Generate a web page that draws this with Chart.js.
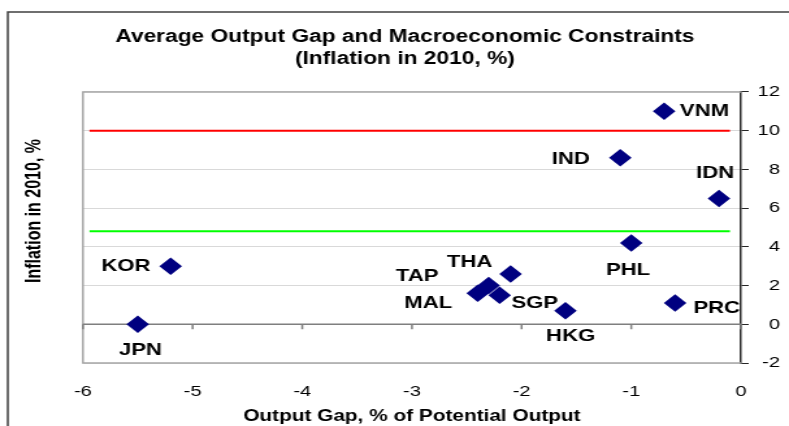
<!DOCTYPE html>
<html>
<head>
<meta charset="utf-8">
<script src="https://cdn.jsdelivr.net/npm/chart.js@4.4.1/dist/chart.umd.min.js"></script>
<style>
  html, body { margin: 0; padding: 0; background: #fff; overflow: hidden; }
  #chart { display: block; }
</style>
</head>
<body>
<canvas id="chart" width="607" height="426" style="width: 789px; height: 426px;"></canvas>
<script>
// values
const countries = ['VNM', 'IND', 'IDN', 'PHL', 'PRC', 'HKG', 'THA', 'TAP', 'MAL', 'SGP', 'KOR', 'JPN']
const outputGap = [-0.7, -1.1, -0.2, -1.0, -0.6, -1.6, -2.1, -2.3, -2.4, -2.2, -5.2, -5.5]
const inflation = [11.0, 8.6, 6.5, 4.2, 1.1, 0.7, 2.6, 2.0, 1.6, 1.5, 3.0, 0.0]
const upperLimit = 10
const lowerLimit = 4.8
const limitSpan = [-5.94, -0.1]

// label placement around each marker (canvas px)
const labelOffsets = {
  VNM: [31, 0], IND: [-38, 1.5], IDN: [-3, -25.5], PHL: [-2.5, 27.5],
  PRC: [32, 5.5], HKG: [4, 26], THA: [-31.5, -11.5], TAP: [-55, -9.5],
  MAL: [-38, 10], SGP: [27, 8.5], KOR: [-34.5, 0], JPN: [2, 26.5]
}

const FONT = '"Liberation Sans", Arial, sans-serif'

const frame = {
  id: 'frame',
  beforeDatasetsDraw (chart) {
    const { ctx, chartArea: a, scales: { x, y } } = chart
    ctx.save()
    ctx.strokeStyle = '#a6a6a6'
    ctx.lineWidth = 1.5
    ctx.beginPath()
    ctx.moveTo(a.right, a.top)
    ctx.lineTo(a.left, a.top)
    ctx.lineTo(a.left, a.bottom)
    ctx.lineTo(a.right, a.bottom)
    ctx.stroke()
    // horizontal axis crossing at zero
    const y0 = y.getPixelForValue(0)
    ctx.strokeStyle = '#7f7f7f'
    ctx.beginPath()
    ctx.moveTo(a.left, y0)
    ctx.lineTo(a.right, y0)
    for (let v = -6; v <= 0; v++) {
      const px = x.getPixelForValue(v)
      ctx.moveTo(px, y0)
      ctx.lineTo(px, y0 + 5)
    }
    ctx.stroke()
    ctx.restore()
  },
  afterDatasetsDraw (chart) {
    const { ctx, scales: { x, y } } = chart
    ctx.save()
    ctx.font = 'bold 17px ' + FONT
    ctx.fillStyle = '#000'
    ctx.textAlign = 'center'
    ctx.textBaseline = 'middle'
    countries.forEach((c, i) => {
      const [dx, dy] = labelOffsets[c]
      ctx.fillText(c, x.getPixelForValue(outputGap[i]) + dx, y.getPixelForValue(inflation[i]) + dy)
    })
    ctx.restore()
  },
  afterDraw (chart) {
    const { ctx } = chart
    ctx.save()
    // outer chart frame
    ctx.strokeStyle = '#404040'
    ctx.lineWidth = 1.5
    ctx.beginPath()
    ctx.moveTo(6, chart.height)
    ctx.lineTo(6, 12)
    ctx.lineTo(chart.width, 12)
    ctx.stroke()
    // vertical axis title
    ctx.translate(26.5, 211)
    ctx.rotate(-Math.PI / 2)
    ctx.font = 'bold 16px ' + FONT
    ctx.fillStyle = '#000'
    ctx.textAlign = 'center'
    ctx.textBaseline = 'middle'
    ctx.fillText('Inflation in 2010, %', 0, 0)
    ctx.restore()
  }
}

const points = outputGap.map((v, i) => ({ x: v, y: inflation[i] }))

const canvas = document.getElementById('chart')
const chart = new Chart(canvas, {
  type: 'scatter',
  data: {
    datasets: [
      {
        data: points,
        pointStyle: 'rectRot',
        pointRadius: 8.7,
        pointHoverRadius: 8.7,
        backgroundColor: '#000080',
        borderColor: '#000080',
        borderWidth: 0
      },
      {
        data: limitSpan.map((v) => ({ x: v, y: upperLimit })),
        showLine: true,
        pointRadius: 0,
        borderColor: '#ff0000',
        borderWidth: 2
      },
      {
        data: limitSpan.map((v) => ({ x: v, y: lowerLimit })),
        showLine: true,
        pointRadius: 0,
        borderColor: '#00ff00',
        borderWidth: 2
      }
    ]
  },
  options: {
    responsive: false,
    animation: false,
    devicePixelRatio: 1,
    layout: { padding: { left: 23, right: 7, top: 0, bottom: 0 } },
    plugins: {
      legend: { display: false },
      tooltip: { enabled: false },
      title: {
        display: true,
        text: ['Average Output Gap and Macroeconomic Constraints', '(Inflation in 2010, %)'],
        color: '#000',
        font: { family: FONT, size: 17.5, weight: 'bold', lineHeight: 1.27 },
        padding: { top: 26, bottom: 21.5 }
      }
    },
    scales: {
      x: {
        type: 'linear',
        position: 'bottom',
        min: -6,
        max: 0,
        ticks: { stepSize: 1, color: '#000', font: { family: FONT, size: 15.5 }, padding: 11 },
        grid: { display: false },
        border: { display: false },
        title: {
          display: true,
          text: 'Output Gap, % of Potential Output',
          color: '#000',
          font: { family: FONT, size: 16, weight: 'bold' },
          padding: { top: 4, bottom: 0 }
        },
        afterFit: (s) => { s.height = 63 }
      },
      y: {
        type: 'linear',
        position: 'right',
        min: -2,
        max: 12,
        ticks: { stepSize: 2, color: '#000', font: { family: FONT, size: 15.5 }, padding: 0, crossAlign: 'far' },
        grid: { color: '#d9d9d9', lineWidth: 1, tickColor: '#262626', tickLength: 6 },
        border: { color: '#262626', width: 1.5 },
        afterFit: (s) => { s.width = 30 }
      },
      yl: {
        type: 'linear',
        position: 'left',
        display: true,
        ticks: { display: false },
        grid: { display: false },
        border: { display: false },
        afterFit: (s) => { s.width = 40.8 }
      }
    }
  },
  plugins: [frame]
})
</script>
</body>
</html>
